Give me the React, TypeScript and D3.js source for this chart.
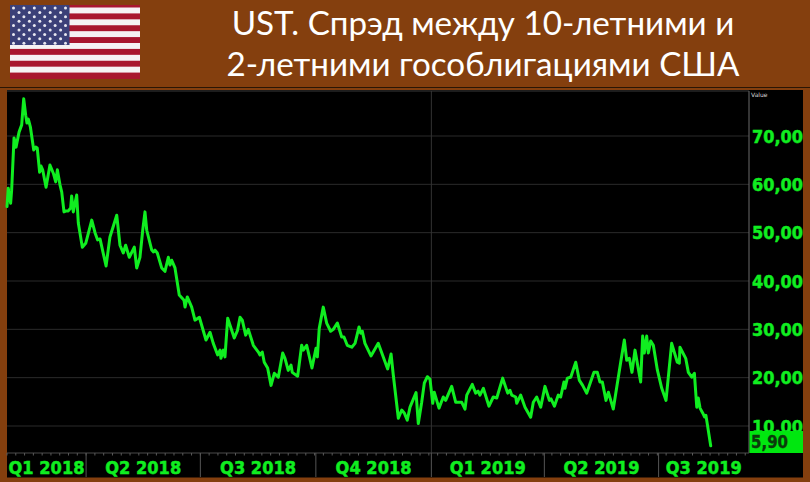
import React from "react";
import * as d3 from "d3";

const titleLines = ["UST. Спрэд между 10-летними и", "2-летними гособлигациями США"];
const yTicks = [70, 60, 50, 40, 30, 20, 10];
const quarterLabels = ["Q1 2018", "Q2 2018", "Q3 2018", "Q4 2018", "Q1 2019", "Q2 2019", "Q3 2019"];
const quarterStarts = [63, 154, 246, 338, 428, 519];
const lastValue = "5,90";

const days = [
  0, 1, 2.9, 3.7, 5.6, 7.2, 9.6, 11.7, 13.3, 14.9, 15.9, 17, 18.6, 21.3, 22.9, 24.1, 26, 27.1, 28.4, 31.1,
  34.2, 36.9, 38.8, 40.1, 42.2, 43.6, 45.4, 47, 48.8, 50.7, 51.5, 52.8, 55.5, 56.8, 60, 62.7, 67.5, 70.1, 72.2, 74.1,
  78.9, 82, 87.4, 90, 92.6, 94.5, 97.4, 101.4, 103.3, 105.9, 108.1, 109.9, 111.3, 115.3, 116.7, 117.9, 119.7, 123.2, 125.8, 128.5,
  129.8, 131.2, 133.8, 137.2, 141, 141.8, 143.6, 147.1, 149.7, 153.2, 158.5, 161.7, 164.3, 167.8, 169.7, 170.4, 172.3, 173.6, 175.8, 181,
  183.6, 185.6, 187.4, 190.1, 192.2, 196.2, 200.2, 201.5, 203.3, 204.9, 207.6, 210.3, 212.9, 216.1, 219.6, 221.4, 224, 226.2, 227.2, 231.5,
  234.7, 236, 238.7, 242.9, 246.1, 247.2, 248.7, 251.9, 254.6, 257.8, 259.9, 263.1, 266.6, 268.4, 271, 274.6, 277.2, 280.4, 281.7, 283,
  285.1, 289.9, 295.7, 303.2, 305.9, 307.7, 311.7, 314.4, 316.4, 318.8, 321, 325.8, 327.6, 330.3, 332.4, 334.8, 336.9, 339.1, 340.3, 344.1,
  347.5, 349.4, 354.2, 357.4, 362.2, 364.8, 366.2, 370.6, 373.3, 375.2, 376.7, 379.4, 383.9, 387.3, 390.1, 394.8, 398.8, 400.6, 402, 405.2,
  406, 409.1, 412.6, 417.1, 419.2, 421.9, 425.1, 428.5, 432, 433.3, 436, 439.1, 441, 443.6, 444.4, 446.3, 449, 453, 455.8, 458.5,
  461.7, 467.5, 470.2, 472.3, 474.2, 477.1, 479, 482.9, 488.8, 491.7, 493.6, 495.7, 497.8, 500.2, 504.7, 506.3, 507.6, 509.5, 510.8, 512.7,
  514.8, 518, 521.5, 524.9, 529.4, 533.9, 535.5, 536, 540.6, 542.7, 545.4, 547.5, 549.4, 550.6, 552, 554.1, 555.6, 556.7, 560.5,
];
const spread = [
  55.4, 59.2, 56.1, 58.8, 69.6, 67.7, 70.8, 72.3, 77.7, 74.3, 72.7, 73.5, 71.9, 67.1, 67.7, 67.5, 62.5, 63.8, 63, 59.4,
  64, 62.3, 60.5, 63, 59.9, 58.4, 54.3, 54.5, 54.5, 55.1, 57.6, 54.3, 57.8, 52, 47, 47.8, 52.6, 50, 48.5, 48.7,
  43.1, 49.1, 53.6, 47.4, 45.8, 47.4, 44.9, 47, 42.7, 44.9, 50.5, 54.3, 50.5, 46.4, 46, 46.4, 45.8, 42.7, 42, 44.9,
  43.3, 44.3, 42.7, 37.1, 36, 34.6, 36.7, 34.6, 31.9, 32.5, 27.8, 29.4, 27.1, 24.7, 25.7, 24, 25.7, 24.3, 32.3, 28.2,
  29.8, 32.5, 31.9, 28.8, 30, 26.7, 25.3, 24.7, 25.3, 23.2, 22, 18.4, 20.9, 20.1, 25.1, 24, 21.5, 22.6, 21.1, 20.3,
  26.7, 25.7, 26.7, 22, 26.1, 24.3, 30.2, 34.6, 31.3, 29.6, 30, 31.3, 28.4, 28.4, 26.7, 26.3, 27.1, 30.5, 29.2, 29.6,
  27.1, 24.5, 27.1, 21.8, 24.9, 20.5, 11.6, 13.3, 12.7, 11.2, 13.9, 16.9, 10.5, 14.9, 18.9, 20.2, 19.7, 14.7, 17, 13.7,
  16, 15.3, 18.2, 14.9, 14.9, 13.5, 16.4, 18.6, 16.8, 17.2, 16.4, 17.8, 14.1, 16, 15.8, 19.9, 16.8, 17.4, 16.4, 16,
  14.7, 16.4, 13.9, 11.8, 14.9, 16, 13.9, 18.2, 15.3, 15.6, 14.1, 16.4, 16, 19.1, 17.8, 19.9, 20.1, 23.2, 19.5, 18.4,
  16.8, 21.1, 21.1, 19.1, 19.1, 15.3, 17, 13.5, 23.2, 27.8, 23.6, 24, 21.1, 25.7, 19.1, 28.6, 25.1, 28.6, 25.1, 27.6,
  26.7, 21.6, 17.8, 15.3, 27.1, 23.2, 23, 26.3, 24, 21.1, 20.1, 20.9, 13.9, 15.8, 13.7, 12.7, 11.9, 12.2, 5.9,
];

const W = 810;
const H = 482;
const BROWN = "#843f0e";
const GREEN = "#10ee20";
const TICK_FONT = "'DejaVu Sans', sans-serif";

const plot = { left: 7, right: 749, top: 91, bottom: 453 };
const DAY_MAX = 591;
const x = d3.scaleLinear().domain([0, DAY_MAX]).range([plot.left, plot.right]);
const y = d3.scaleLinear().domain([70, 10]).range([136, 426]);

const weekly = d3.range(0, DAY_MAX, 7);
const quarterEdges = [0, ...quarterStarts, DAY_MAX];

const flagStripes = d3.range(12);
const flagX = d3.scaleLinear().domain([0, 1]).range([10, 140]);
const flagY = d3.scaleBand<number>().domain(flagStripes).range([7.5, 78.5]);
const cantonStars: [number, number][] = [];
d3.range(9).forEach((r) => {
  d3.range(r % 2 ? 5 : 6).forEach((c) => {
    cantonStars.push([(r % 2 ? 19 : 13.5) + c * 10.4, 8 + r * 4.4]);
  });
});

export default function App() {
  const line = d3
    .line<number>()
    .x((_, i) => x(days[i]))
    .y((d) => y(d))
    .curve(d3.curveLinear);

  return (
    <svg
      width={W}
      height={H}
      viewBox={`0 0 ${W} ${H}`}
      style={{ position: "absolute", left: 0, top: 0, display: "block" }}
    >
      <defs>
        <filter id="soft" x="-5%" y="-5%" width="110%" height="110%">
          <feGaussianBlur stdDeviation="0.6" />
        </filter>
        <clipPath id="tickClip">
          <rect x={749} y={91} width={54} height={340} />
        </clipPath>
        <clipPath id="flagClip">
          <rect x={10} y={5} width={130} height={74} />
        </clipPath>
      </defs>
      <rect width={W} height={H} fill={BROWN} />
      <line x1={0} x2={W} y1={87.5} y2={87.5} stroke="#2a1605" strokeWidth={1} />

      <g clipPath="url(#flagClip)">
        <g filter="url(#soft)">
          <rect x={flagX(0)} y={5} width={flagX(1) - flagX(0)} height={74} fill="#a9142f" />
          {flagStripes.map((i) => (
            <rect
              key={i}
              x={flagX(0)}
              y={flagY(i)}
              width={flagX(1) - flagX(0)}
              height={flagY.bandwidth() + (i % 2 ? 0 : 1)}
              fill={i % 2 ? "#a9142f" : "#f6f2f4"}
            />
          ))}
          <rect x={flagX(0)} y={5} width={59.5} height={40} fill="#3a3f78" />
          {cantonStars.map(([sx, sy], i) => (
            <circle key={i} cx={sx} cy={sy} r={1.5} fill="#e8e8f0" />
          ))}
        </g>
      </g>

      {titleLines.map((t, i) => (
        <text
          key={t}
          x={483}
          y={35 + i * 41}
          textAnchor="middle"
          fill="#ffffff"
          fontFamily="Lato, 'Open Sans', sans-serif"
          fontSize={33.2}
        >
          {t}
        </text>
      ))}

      <rect x={7} y={90} width={796} height={387.5} fill="#000000" />

      {yTicks.map((t) => (
        <line key={t} x1={plot.left} x2={plot.right} y1={y(t)} y2={y(t)} stroke="#2b2b2b" strokeWidth={1} />
      ))}
      <line x1={x(338)} x2={x(338)} y1={plot.top} y2={plot.bottom} stroke="#333333" strokeWidth={1} />

      <line x1={plot.left} x2={plot.right} y1={plot.top} y2={plot.top} stroke="#3a3a3a" strokeWidth={1.2} />
      <line x1={plot.right} x2={plot.right} y1={plot.top} y2={plot.bottom} stroke="#6a6a6a" strokeWidth={1} />
      <line x1={plot.left} x2={plot.right} y1={plot.bottom} y2={plot.bottom} stroke="#4a4a4a" strokeWidth={1} />

      {weekly.map((d) => (
        <line key={d} x1={x(d)} x2={x(d)} y1={plot.bottom} y2={plot.bottom + 2.5} stroke="#5a5a5a" strokeWidth={1} />
      ))}
      {quarterStarts.map((d) => (
        <line key={d} x1={x(d)} x2={x(d)} y1={plot.bottom} y2={477} stroke="#555555" strokeWidth={1} />
      ))}

      <path
        d={line(spread) ?? ""}
        fill="none"
        stroke={GREEN}
        strokeWidth={3}
        strokeLinejoin="round"
        strokeLinecap="round"
      />

      <text x={751} y={97} fill="#d8d8d8" fontFamily={TICK_FONT} fontSize={6}>
        Value
      </text>
      <g clipPath="url(#tickClip)">
        {yTicks.map((t) => (
          <text
            key={t}
            x={752}
            y={y(t) + 6.5}
            fill={GREEN}
            stroke={GREEN}
            strokeWidth={0.5}
            fontFamily={TICK_FONT}
            fontWeight="bold"
            fontSize={18}
            textLength={51}
            lengthAdjust="spacingAndGlyphs"
          >
            {`${t},00`}
          </text>
        ))}
      </g>

      <rect x={749.5} y={431} width={53.5} height={22} fill="#00e70f" />
      <text
        x={751}
        y={448}
        fill="#0b3a0b"
        stroke="#0b3a0b"
        strokeWidth={0.4}
        fontFamily={TICK_FONT}
        fontWeight="bold"
        fontSize={18}
        textLength={37}
        lengthAdjust="spacingAndGlyphs"
      >
        {lastValue}
      </text>

      {quarterLabels.map((q, i) => (
        <text
          key={q}
          x={(x(quarterEdges[i]) + x(quarterEdges[i + 1])) / 2}
          y={473.5}
          textAnchor="middle"
          fill={GREEN}
          stroke={GREEN}
          strokeWidth={0.5}
          fontFamily={TICK_FONT}
          fontWeight="bold"
          fontSize={18}
          textLength={76}
          lengthAdjust="spacingAndGlyphs"
        >
          {q}
        </text>
      ))}
    </svg>
  );
}
